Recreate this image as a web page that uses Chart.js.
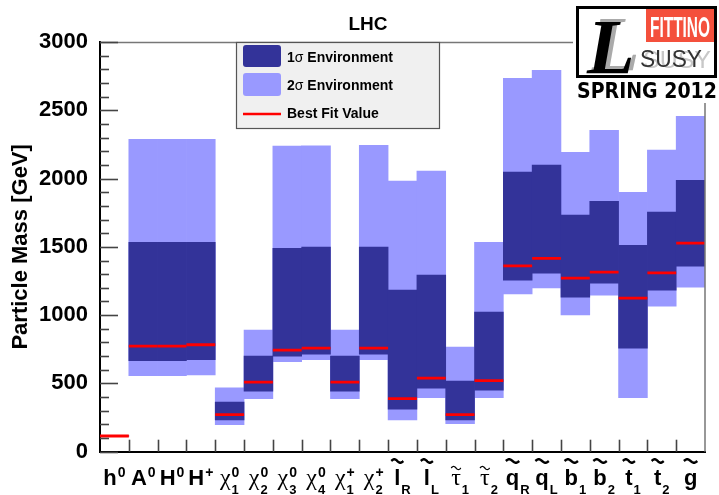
<!DOCTYPE html>
<html>
<head>
<meta charset="utf-8">
<title>LHC particle mass ranges</title>
<style>
  html, body { margin: 0; padding: 0; background: #ffffff; }
  canvas { display: block; }
</style>
</head>
<body>
<canvas id="massChart" width="719" height="495"></canvas>
<script src="https://cdn.jsdelivr.net/npm/chart.js@4.4.1/dist/chart.umd.min.js"></script>
<script>
// Particles along the x axis
const categories = ['h0', 'A0', 'H0', 'H+', 'chi10', 'chi20', 'chi30', 'chi40', 'chi1+', 'chi2+',
  'lR', 'lL', 'tau1', 'tau2', 'qR', 'qL', 'b1', 'b2', 't1', 't2', 'g'];

// Label pieces: main symbol, superscript, subscript, tilde flag
const labelBase  = ['h', 'A', 'H', 'H', 'χ', 'χ', 'χ', 'χ', 'χ', 'χ', 'l', 'l', 'τ', 'τ', 'q', 'q', 'b', 'b', 't', 't', 'g'];
const labelSup   = ['0', '0', '0', '+', '0', '0', '0', '0', '+', '+', '', '', '', '', '', '', '', '', '', '', ''];
const labelSub   = ['', '', '', '', '1', '2', '3', '4', '1', '2', 'R', 'L', '1', '2', 'R', 'L', '1', '2', '1', '2', ''];
const labelTilde = [false, false, false, false, false, false, false, false, false, false,
  true, true, true, true, true, true, true, true, true, true, true];

// 2 sigma environment (GeV)
const sigma2Low  = [113, 556, 556, 563, 198, 388, 659, 673, 388, 673, 232, 395, 205, 395, 1156, 1200, 1002, 1147, 395, 1066, 1205];
const sigma2High = [118, 2288, 2288, 2288, 468, 890, 2237, 2240, 890, 2244, 1981, 2054, 766, 1534, 2734, 2793, 2193, 2354, 1900, 2208, 2456];

// 1 sigma environment (GeV)
const sigma1Low  = [114, 666, 666, 673, 232, 444, 700, 715, 444, 715, 312, 466, 232, 451, 1256, 1307, 1132, 1234, 759, 1183, 1359];
const sigma1High = [117, 1534, 1534, 1534, 364, 700, 1490, 1498, 700, 1498, 1183, 1293, 517, 1022, 2047, 2098, 1732, 1834, 1512, 1754, 1988];

// Best fit masses (GeV)
const bestFit = [115, 773, 773, 783, 271, 510, 744, 759, 510, 759, 388, 539, 271, 520, 1361, 1415, 1271, 1315, 1125, 1310, 1527];

// Y axis range and tick spacing
const yMin = 0, yMax = 3000, yMajorStep = 500, yMinorStep = 100;

const DARK = '#333399';
const LIGHT = '#9999ff';
const RED = '#ff0000';
const SANS = '"Liberation Sans", Arial, Helvetica, sans-serif';
const SERIF = '"Liberation Serif", "Times New Roman", serif';

function drawTilde(ctx, cx, cy, w, amp, lw) {
  ctx.save();
  ctx.beginPath();
  const steps = 20;
  for (let k = 0; k <= steps; k++) {
    const t = k / steps;
    const x = cx - w / 2 + t * w;
    const y = cy - amp * Math.sin(t * 2 * Math.PI);
    if (k === 0) ctx.moveTo(x, y); else ctx.lineTo(x, y);
  }
  ctx.lineWidth = lw;
  ctx.strokeStyle = '#000';
  ctx.lineCap = 'butt';
  ctx.lineJoin = 'round';
  ctx.stroke();
  ctx.restore();
}

function fitText(ctx, text, x, y, width) {
  const w = ctx.measureText(text).width;
  ctx.save();
  ctx.translate(x, y);
  ctx.scale(width / w, 1);
  ctx.fillText(text, 0, 0);
  ctx.restore();
}

const decorPlugin = {
  id: 'decor',
  afterDatasetsDraw(chart) {
    const ctx = chart.ctx;
    const area = chart.chartArea;
    const xs = chart.scales.x;
    const ys = chart.scales.y;
    ctx.save();

    // frame: top and right edges
    ctx.strokeStyle = '#777';
    ctx.lineWidth = 1.5;
    ctx.beginPath();
    ctx.moveTo(area.left, area.top + 0.5);
    ctx.lineTo(area.right, area.top + 0.5);
    ctx.lineTo(area.right, area.bottom);
    ctx.stroke();

    // y ticks pointing into the plot
    ctx.strokeStyle = '#444';
    ctx.lineWidth = 1.6;
    for (let v = yMin; v <= yMax; v += yMinorStep) {
      const y = Math.round(ys.getPixelForValue(v)) + 0.5;
      const len = (v % yMajorStep === 0) ? 18 : 9;
      ctx.beginPath();
      ctx.moveTo(area.left, y);
      ctx.lineTo(area.left + len, y);
      ctx.stroke();
    }

    // x ticks on the category boundaries
    for (let i = 1; i < categories.length; i++) {
      const x = Math.round((xs.getPixelForValue(i - 1) + xs.getPixelForValue(i)) / 2) + 0.5;
      ctx.beginPath();
      ctx.moveTo(x, area.bottom);
      ctx.lineTo(x, area.bottom - 12);
      ctx.stroke();
    }

    // x labels with super/subscripts
    const baseY = 485;
    ctx.fillStyle = '#000';
    ctx.textBaseline = 'alphabetic';
    ctx.textAlign = 'left';
    for (let i = 0; i < categories.length; i++) {
      const cx = xs.getPixelForValue(i);
      const greek = labelBase[i] === 'χ' || labelBase[i] === 'τ';
      const baseFont = greek ? ('24px ' + SERIF) : ('bold 22px ' + SANS);
      ctx.font = baseFont;
      const wb = ctx.measureText(labelBase[i]).width;
      ctx.font = 'bold 14px ' + SANS;
      const wsup = labelSup[i] ? ctx.measureText(labelSup[i]).width : 0;
      ctx.font = 'bold 13px ' + SANS;
      const wsub = labelSub[i] ? ctx.measureText(labelSub[i]).width : 0;
      const ws = Math.max(wsup, wsub);
      const total = wb + (ws ? ws + 1 : 0);
      const x0 = cx - total / 2;
      ctx.font = baseFont;
      ctx.fillText(labelBase[i], x0, baseY);
      if (labelTilde[i]) {
        if (greek) drawTilde(ctx, x0 + wb / 2, 468, wb * 1.0, 1.6, 1.2);
        else drawTilde(ctx, x0 + wb / 2, 461, Math.max(wb, 12), 1.8, 2.4);
      }
      if (labelSup[i]) {
        ctx.font = 'bold 14px ' + SANS;
        ctx.fillText(labelSup[i], x0 + wb + 1, 477);
      }
      if (labelSub[i]) {
        ctx.font = 'bold 13px ' + SANS;
        ctx.fillText(labelSub[i], x0 + wb + 1, 494);
      }
    }

    // title
    ctx.font = 'bold 19px ' + SANS;
    ctx.textAlign = 'center';
    ctx.textBaseline = 'middle';
    ctx.fillText('LHC', 368, 25);

    // legend
    ctx.fillStyle = '#f0f0f0';
    ctx.fillRect(236, 42, 204, 87);
    ctx.strokeStyle = '#555';
    ctx.lineWidth = 1.2;
    ctx.strokeRect(236.5, 42.5, 203, 86);
    ctx.fillStyle = DARK;
    ctx.beginPath(); ctx.roundRect(243, 45, 38, 22, 3); ctx.fill();
    ctx.fillStyle = LIGHT;
    ctx.beginPath(); ctx.roundRect(243, 73, 38, 23, 3); ctx.fill();
    ctx.strokeStyle = RED;
    ctx.lineWidth = 2.6;
    ctx.beginPath(); ctx.moveTo(243, 114); ctx.lineTo(281, 114); ctx.stroke();

    ctx.fillStyle = '#000';
    ctx.textAlign = 'left';
    ctx.textBaseline = 'alphabetic';
    const legendRows = [['1', 61.7], ['2', 90]];
    for (const [n, by] of legendRows) {
      let x = 287;
      ctx.font = 'bold 14px ' + SANS;
      ctx.fillText(n, x, by); x += ctx.measureText(n).width;
      ctx.font = '14px ' + SANS;
      ctx.fillText('σ', x, by); x += ctx.measureText('σ').width;
      ctx.font = 'bold 14px ' + SANS;
      ctx.fillText(' Environment', x, by);
    }
    ctx.font = 'bold 14px ' + SANS;
    ctx.fillText('Best Fit Value', 287, 118.3);

    // Fittino logo
    ctx.fillStyle = '#fff';
    ctx.fillRect(573, 0, 146, 103);
    ctx.fillStyle = '#f4503c';
    ctx.fillRect(646, 9, 68, 33);
    ctx.strokeStyle = '#000';
    ctx.lineWidth = 3;
    ctx.strokeRect(577.5, 7.5, 138, 69);
    ctx.fillStyle = '#fff';
    ctx.font = 'bold 30px ' + SANS;
    fitText(ctx, 'FITTINO', 650, 37, 60);
    ctx.font = '24px ' + SANS;
    ctx.fillStyle = '#c8c8c8';
    fitText(ctx, 'SUSY', 643, 68, 68);
    ctx.fillStyle = '#333';
    fitText(ctx, 'SUSY', 640, 67, 62);
    ctx.font = 'italic bold 78px ' + SERIF;
    ctx.fillStyle = '#aaa';
    ctx.fillText('L', 592, 70);
    ctx.fillStyle = '#000';
    ctx.fillText('L', 587, 73);
    ctx.font = 'bold 22px "DejaVu Sans", sans-serif';
    ctx.fillStyle = '#000';
    fitText(ctx, 'SPRING 2012', 577, 98, 140);

    ctx.restore();
  }
};

new Chart(document.getElementById('massChart'), {
  type: 'bar',
  data: {
    labels: categories,
    datasets: [
      {
        type: 'line',
        label: 'Best Fit Value',
        data: bestFit,
        showLine: false,
        pointStyle: 'line',
        pointRadius: (c) => (c.chart.scales.x ? c.chart.scales.x.width / categories.length / 2 : 14),
        pointBorderColor: RED,
        pointBackgroundColor: RED,
        pointBorderWidth: 2.8,
        order: 1
      },
      {
        label: '1σ Environment',
        data: sigma1Low.map((lo, i) => [lo, sigma1High[i]]),
        backgroundColor: DARK,
        borderWidth: 0,
        grouped: false,
        barPercentage: 1,
        categoryPercentage: 1,
        order: 2
      },
      {
        label: '2σ Environment',
        data: sigma2Low.map((lo, i) => [lo, sigma2High[i]]),
        backgroundColor: LIGHT,
        borderWidth: 0,
        grouped: false,
        barPercentage: 1,
        categoryPercentage: 1,
        order: 3
      }
    ]
  },
  options: {
    responsive: false,
    animation: false,
    events: [],
    layout: { padding: { top: 42, right: 14, left: 0, bottom: 0 } },
    plugins: {
      legend: { display: false },
      tooltip: { enabled: false },
      title: { display: false }
    },
    scales: {
      x: {
        offset: true,
        grid: { display: false },
        ticks: { display: false },
        border: { display: true, color: '#000', width: 2 },
        afterFit: (s) => { s.height = 43.3; }
      },
      y: {
        min: yMin,
        max: yMax,
        grid: { display: false },
        border: { display: true, color: '#000', width: 2 },
        ticks: {
          stepSize: yMajorStep,
          padding: 4,
          color: '#000',
          font: { family: SANS, weight: 'bold', size: 22 },
          callback: (v) => String(v)
        },
        title: {
          display: true,
          text: 'Particle Mass [GeV]',
          color: '#000',
          font: { family: SANS, weight: 'bold', size: 22 },
          padding: { top: 8, bottom: 0 }
        },
        afterFit: (s) => { s.width = 100; }
      }
    }
  },
  plugins: [decorPlugin]
});
</script>
</body>
</html>
